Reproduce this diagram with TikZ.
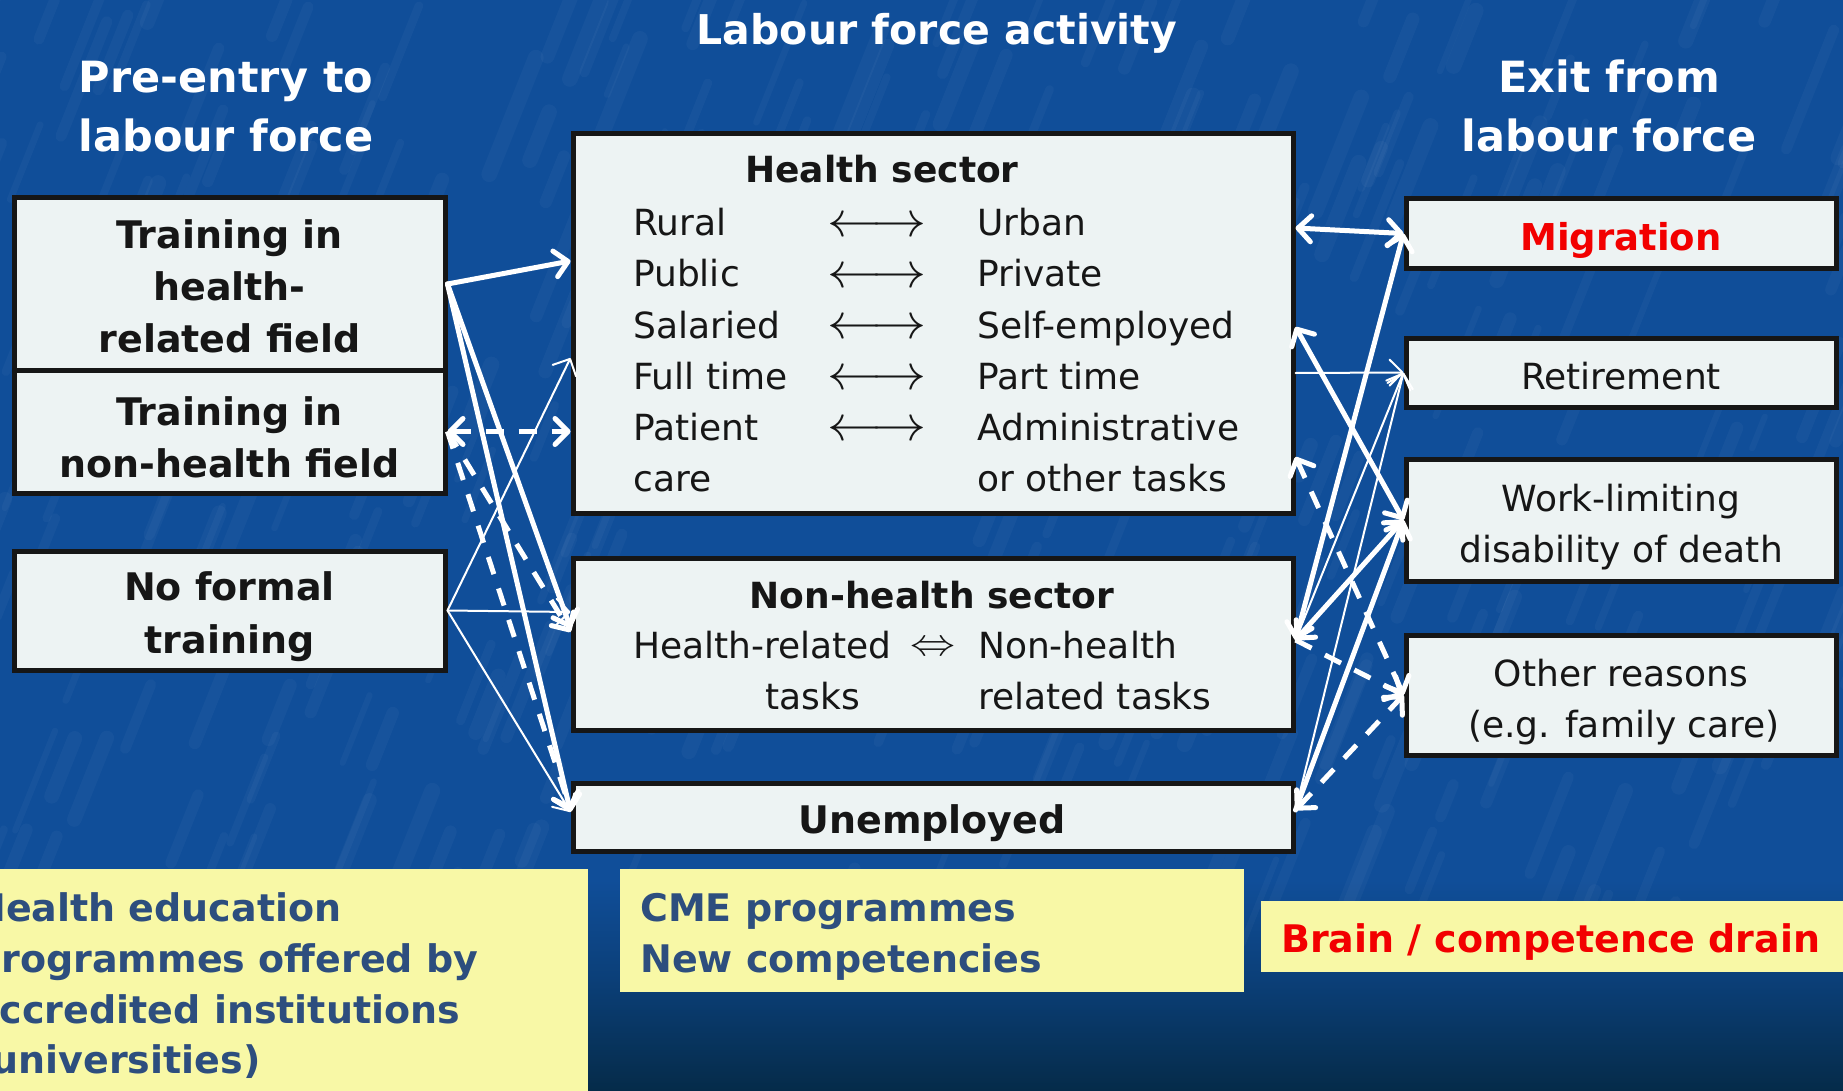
\documentclass[tikz,border=0pt]{standalone}
\usepackage{graphicx}
\usepackage{fontspec}
\setmainfont{DejaVu Sans}
\usetikzlibrary{arrows.meta}

\definecolor{bgblue}{HTML}{104E99}
\definecolor{bgmid}{HTML}{0B3F78}
\definecolor{bgdark}{HTML}{052B49}
\definecolor{boxfill}{HTML}{EDF3F3}
\definecolor{boxline}{HTML}{161616}
\definecolor{notefill}{HTML}{F8F8A6}
\definecolor{notetext}{HTML}{2D4E7E}
\definecolor{alertred}{HTML}{F20000}

\newcommand{\fsz}[1]{\fontsize{#1pt}{1.35\dimexpr#1pt\relax}\selectfont}
\newcommand{\lrarrow}{\scalebox{5.4}[5.0]{$\longleftrightarrow$}}
\newcommand{\dblarrow}{\scalebox{4.5}[3.8]{$\Leftrightarrow$}}

\begin{document}
\begin{tikzpicture}[x=1pt,y=-1pt,
  box/.style={draw=boxline, line width=5pt, fill=boxfill, inner sep=0pt},
  note/.style={fill=notefill, draw=none},
  hdr/.style={text=white, font=\fsz{43}\bfseries, anchor=base, inner sep=0pt},
  lbl/.style={text=boxline, font=\fsz{38}\bfseries, anchor=base, inner sep=0pt},
  item/.style={text=boxline, font=\fsz{36}, anchor=base west, inner sep=0pt},
  itemc/.style={text=boxline, font=\fsz{36}, anchor=base, inner sep=0pt},
  ttl/.style={text=boxline, font=\fsz{36}\bfseries, anchor=base, inner sep=0pt},
  ex/.style={text=boxline, font=\fsz{36}, anchor=base, inner sep=0pt},
  notetxt/.style={text=notetext, font=\fsz{38}\bfseries, anchor=base west, inner sep=0pt},
  conn/.style={draw=white, line cap=round, line join=round},
  thickc/.style={conn, line width=5pt},
  thinc/.style={conn, line width=2pt},
  dashc/.style={draw=white, line width=5pt, dash pattern=on 18pt off 15pt},
  >={Straight Barb[length=13pt, width=26pt, round]}
]
\useasboundingbox (0,0) rectangle (1843,1091);
\clip (0,0) rectangle (1843,1091);

% background with a soft streaked texture
\fill[bgblue] (0,0) rectangle (1843,1091);
\shade[top color=bgblue, bottom color=bgmid] (0,880) rectangle (1843,980);
\shade[top color=bgmid, bottom color=bgdark] (0,979) rectangle (1843,1091);
\pgfmathsetseed{11}
\foreach \i in {1,...,360}{
  \pgfmathsetmacro\xx{rnd*1900-40}
  \pgfmathsetmacro\yy{rnd*940+20}
  \pgfmathsetmacro\ll{30+rnd*90}
  \pgfmathsetmacro\ww{6+rnd*10}
  \draw[white, opacity=0.03, line width=\ww pt, line cap=round]
    (\xx,\yy) -- ++(0.4*\ll,-\ll);
}

% column headings
\node[hdr, font=\fsz{41}\bfseries] (title) at (937,45) {Labour force activity};
\node[hdr] (pre1) at (226,93) {Pre-entry to};
\node[hdr] (pre2) at (226,152) {labour force};
\node[hdr] (exit1) at (1609,93) {Exit from};
\node[hdr] (exit2) at (1609,152) {labour force};

% pre-entry boxes
\node[box, minimum width=431, minimum height=172] (th) at (229.5,284) {};
\node[box, minimum width=431, minimum height=123] (tn) at (229.5,431.5) {};
\node[box, minimum width=431, minimum height=119] (nf) at (229.5,610.5) {};
\node[lbl] (th1) at (229.5,249) {Training in};
\node[lbl] (th2) at (229.5,300) {health-};
\node[lbl] (th3) at (229.5,352) {related field};
\node[lbl] (tn1) at (229.5,425) {Training in};
\node[lbl] (tn2) at (229.5,477) {non-health field};
\node[lbl] (nf1) at (229.5,600) {No formal};
\node[lbl] (nf2) at (229.5,653) {training};

% labour force activity boxes
\node[box, minimum width=720, minimum height=379] (hs) at (933,323.5) {};
\node[box, minimum width=720, minimum height=172] (nh) at (933,644) {};
\node[box, minimum width=720, minimum height=68] (un) at (933,817) {};

\node[ttl] (hst) at (882,183) {Health sector};
\node[item] (l1) at (633,236) {Rural};
\node[item] (l2) at (633,287) {Public};
\node[item] (l3) at (633,338) {Salaried};
\node[item] (l4) at (633,389) {Full time};
\node[item] (l5) at (633,440) {Patient};
\node[item] (l6) at (633,491) {care};
\node[inner sep=0pt, text=boxline] (a1) at (877,227) {\lrarrow};
\node[inner sep=0pt, text=boxline] (a2) at (877,278) {\lrarrow};
\node[inner sep=0pt, text=boxline] (a3) at (877,329) {\lrarrow};
\node[inner sep=0pt, text=boxline] (a4) at (877,380) {\lrarrow};
\node[inner sep=0pt, text=boxline] (a5) at (877,431) {\lrarrow};
\node[item] (r1) at (977,236) {Urban};
\node[item] (r2) at (977,287) {Private};
\node[item] (r3) at (977,338) {Self-employed};
\node[item] (r4) at (977,389) {Part time};
\node[item] (r5) at (977,440) {Administrative};
\node[item] (r6) at (977,491) {or other tasks};

\node[ttl] (nht) at (932,608) {Non-health sector};
\node[item] (n1) at (633,658) {Health-related};
\node[inner sep=0pt, text=boxline] (na) at (933,649) {\dblarrow};
\node[item] (n2) at (978,658) {Non-health};
\node[itemc] (n3) at (813,709) {tasks};
\node[item] (n4) at (978,709) {related tasks};

\node[lbl] (unt) at (932,833) {Unemployed};

% exit boxes
\node[box, minimum width=430, minimum height=69] (mi) at (1621,233.5) {};
\node[box, minimum width=430, minimum height=69] (re) at (1621,372.5) {};
\node[box, minimum width=430, minimum height=122] (wl) at (1621,520) {};
\node[box, minimum width=430, minimum height=120] (ot) at (1621,695) {};
\node[lbl, text=alertred, font=\fsz{37}\bfseries] (mit) at (1621,251) {Migration};
\node[ex] (ret) at (1621,389) {Retirement};
\node[ex] (wl1) at (1621,511) {Work-limiting};
\node[ex] (wl2) at (1621,562) {disability of death};
\node[ex] (ot1) at (1621,686) {Other reasons};
\node[ex] (ot2) at (1624,737) {(e.g. family care)};

% notes along the bottom
\fill[note] (0,869) rectangle (588,1091);
\fill[note] (620,869) rectangle (1244,992);
\fill[note] (1261,901) rectangle (1843,972);
\node[notetxt] (e1) at (-26,921) {Health education};
\node[notetxt] (e2) at (-26,972) {programmes offered by};
\node[notetxt] (e3) at (-26,1023) {accredited institutions};
\node[notetxt] (e4) at (-26,1073) {(universities)};
\node[notetxt] (c1) at (640,921) {CME programmes};
\node[notetxt] (c2) at (640,972) {New competencies};
\node[notetxt, text=alertred] (bd) at (1281,952) {Brain / competence drain};

% entry flows
\draw[thickc,->] (th.east) -- (hs.west |- 0,261);
\draw[thickc,->] (th.east) -- (nh.west |- 0,628);
\draw[thickc,->] (th.east) -- (un.west |- 0,812);
\draw[thinc,->] (nf.east) -- (hs.west |- 0,358);
\draw[thinc,->] (nf.east) -- (nh.west |- 0,612);
\draw[thinc,->] (nf.east) -- (un.west |- 0,812);
\draw[dashc,<->] (tn.east) -- (hs.west |- tn.east);
\draw[dashc,->] (tn.east) -- (nh.west |- 0,632);
\draw[dashc,->] (tn.east) -- (un.west |- 0,810);

% exit flows
\draw[thickc,<->] (hs.east |- 0,228) -- (mi.west);
\draw[thickc,<->] (hs.east |- 0,327) -- (wl.west);
\draw[thinc,->] (hs.east |- 0,373) -- (re.west);
\draw[dashc,<->] (hs.east |- 0,457) -- (ot.west);
\draw[thickc,<->] (nh.east |- 0,640) -- (mi.west);
\draw[thickc,<->] (nh.east |- 0,640) -- (wl.west);
\draw[thinc,->] (nh.east |- 0,640) -- (re.west);
\draw[dashc,->] (nh.east |- 0,640) -- (ot.west);
\draw[thinc,->] (un.east |- 0,810) -- (re.west);
\draw[thickc,->] (un.east |- 0,810) -- (wl.west);
\draw[dashc,<->] (un.east |- 0,810) -- (ot.west);
\end{tikzpicture}
\end{document}
